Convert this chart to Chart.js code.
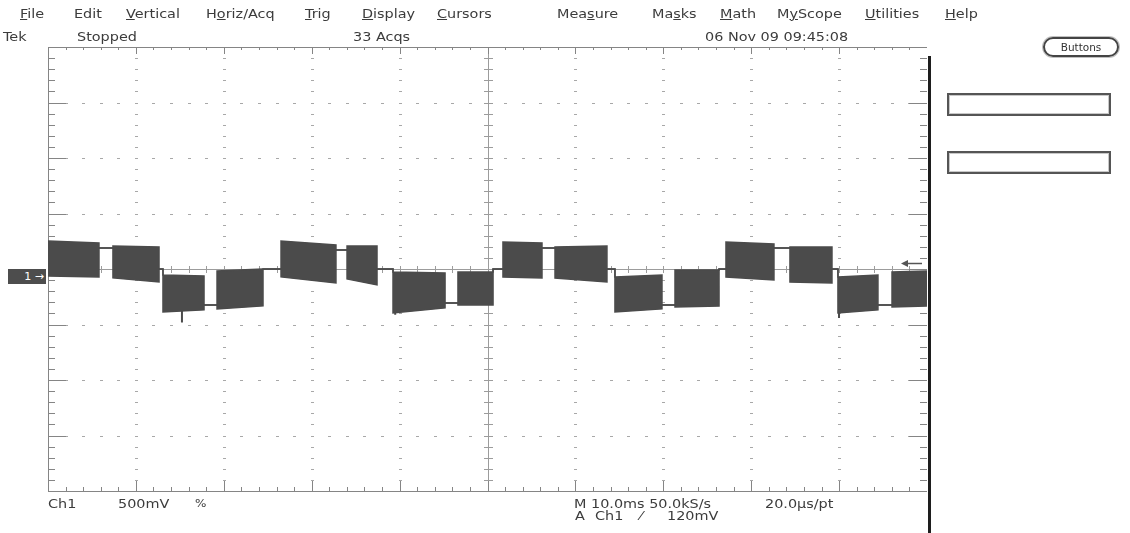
<!DOCTYPE html>
<html>
<head>
<meta charset="utf-8">
<script src="https://cdn.jsdelivr.net/npm/chart.js@4.4.0/dist/chart.umd.min.js"></script>
<style>
  html, body { margin: 0; padding: 0; background: #fff; }
  #scope { position: relative; width: 1130px; height: 533px; overflow: hidden; }
  #scope canvas { position: absolute; left: 0; top: 0; }
  .txt {
    position: absolute; font-family: "DejaVu Sans", sans-serif; font-size: 12px;
    line-height: 12px; color: #3c3c3c; white-space: nowrap;
    transform: scaleX(1.2); transform-origin: 0 50%;
  }
  .txt u { text-decoration-thickness: 1px; text-underline-offset: 1px; }
  .box {
    position: absolute; left: 947px; width: 164px; height: 23px; box-sizing: border-box;
    border: 2px solid #555; box-shadow: inset 0 0 0 1px #c8c8c8;
  }
  #buttons {
    position: absolute; left: 1043px; top: 37px; width: 76px; height: 20px; box-sizing: border-box;
    border: 2px solid #444; border-radius: 10px; box-shadow: 0 0 0 1px #c0c0c0;
    font-family: "DejaVu Sans", sans-serif; font-size: 10.5px; line-height: 16px;
    text-align: center; color: #333;
  }
  #ch1Marker {
    position: absolute; left: 8px; width: 38px; height: 15px; background: #4d4d4d;
    color: #fff; font-family: "DejaVu Sans", sans-serif; font-size: 11px; line-height: 15px;
    text-align: right; padding-right: 2px; box-sizing: border-box;
  }
</style>
</head>
<body>
<div id="scope">
  <canvas id="scopeCanvas" width="1130" height="533"></canvas>

  <div class="txt" style="left:20px;top:8px"><u>F</u>ile</div>
  <div class="txt" style="left:74px;top:8px">Edit</div>
  <div class="txt" style="left:126px;top:8px"><u>V</u>ertical</div>
  <div class="txt" style="left:206px;top:8px">H<u>o</u>riz/Acq</div>
  <div class="txt" style="left:305px;top:8px"><u>T</u>rig</div>
  <div class="txt" style="left:362px;top:8px"><u>D</u>isplay</div>
  <div class="txt" style="left:437px;top:8px"><u>C</u>ursors</div>
  <div class="txt" style="left:557px;top:8px">Mea<u>s</u>ure</div>
  <div class="txt" style="left:652px;top:8px">Ma<u>s</u>ks</div>
  <div class="txt" style="left:720px;top:8px"><u>M</u>ath</div>
  <div class="txt" style="left:777px;top:8px">M<u>y</u>Scope</div>
  <div class="txt" style="left:865px;top:8px"><u>U</u>tilities</div>
  <div class="txt" style="left:945px;top:8px"><u>H</u>elp</div>

  <div class="txt" style="left:3px;top:31px">Tek</div>
  <div class="txt" style="left:77px;top:31px">Stopped</div>
  <div class="txt" style="left:353px;top:31px">33 Acqs</div>
  <div class="txt" style="left:705px;top:31px">06 Nov 09 09:45:08</div>

  <div id="buttons">Buttons</div>
  <div class="box" style="top:93px"></div>
  <div class="box" style="top:151px"></div>

  <div class="txt" style="left:48px;top:498px">Ch1</div>
  <div class="txt" style="left:118px;top:498px">500mV</div>
  <div class="txt" style="left:195px;top:498px;font-size:10px">%</div>
  <div class="txt" style="left:574px;top:498px">M 10.0ms 50.0kS/s</div>
  <div class="txt" style="left:765px;top:498px">20.0μs/pt</div>
  <div class="txt" style="left:575px;top:510px">A</div>
  <div class="txt" style="left:595px;top:510px">Ch1</div>
  <div class="txt" style="left:640px;top:510px">⁄</div>
  <div class="txt" style="left:667px;top:510px">120mV</div>

  <div id="ch1Marker">1 →</div>
</div>

<script>
// Ch1 trace, 10 ms/div, 500 mV/div. Each segment is a PWM block (upper/lower
// envelope) or a flat stretch where both envelopes sit on the same level.
const segStartMs = [0, 5.80, 7.39, 12.63, 13.08, 17.75, 19.23, 24.46, 26.51, 32.76, 34.02, 37.43,
  39.25, 45.17, 46.64, 50.63, 51.76, 56.20, 57.68, 63.59, 64.50, 69.85, 71.33, 76.34,
  77.13, 82.59, 84.41, 89.19, 89.87, 94.42, 96.02];
const segEndMs = [5.80, 7.39, 12.63, 13.08, 17.75, 19.23, 24.46, 26.51, 32.76, 34.02, 37.43, 39.25,
  45.17, 46.64, 50.63, 51.76, 56.20, 57.68, 63.59, 64.50, 69.85, 71.33, 76.34, 77.13,
  82.59, 84.41, 89.19, 89.87, 94.42, 96.02, 100];
const highStartV = [0.315, 0.252, 0.270, 0.063, 0.009, -0.261, 0.045, 0.063, 0.315, 0.234, 0.270, 0.063,
  0.036, -0.243, 0.036, 0.063, 0.306, 0.252, 0.261, 0.063, -0.009, -0.261, 0.054, 0.063,
  0.306, 0.252, 0.261, 0.063, -0.009, -0.261, 0.036];
const highEndV = [0.297, 0.252, 0.261, 0.063, 0.000, -0.261, 0.063, 0.063, 0.279, 0.234, 0.270, 0.063,
  0.027, -0.243, 0.036, 0.063, 0.297, 0.252, 0.270, 0.063, 0.009, -0.261, 0.054, 0.063,
  0.288, 0.252, 0.261, 0.063, 0.009, -0.261, 0.045];
const lowStartV = [0.000, 0.252, -0.018, 0.063, -0.324, -0.261, -0.297, 0.063, -0.009, 0.234, -0.027, 0.063,
  -0.333, -0.243, -0.261, 0.063, -0.009, 0.252, -0.018, 0.063, -0.324, -0.261, -0.279, 0.063,
  -0.009, 0.252, -0.054, 0.063, -0.333, -0.261, -0.279];
const lowEndV = [-0.009, 0.252, -0.054, 0.063, -0.306, -0.261, -0.270, 0.063, -0.063, 0.234, -0.081, 0.063,
  -0.288, -0.243, -0.261, 0.063, -0.018, 0.252, -0.054, 0.063, -0.297, -0.261, -0.270, 0.063,
  -0.036, 0.252, -0.063, 0.063, -0.306, -0.261, -0.270];

// glitches poking out below a few blocks
const spikeMs = [15.24, 39.5, 89.99];
const spikeFromV = [-0.31, -0.33, -0.32];
const spikeToV = [-0.42, -0.35, -0.38];

const msPerDiv = 10;
const vPerDiv = 0.5;
const centerV = 0.0625;          // ground sits 1/8 div below screen centre
const yMin = centerV - 4 * vPerDiv;
const yMax = centerV + 4 * vPerDiv;
const trigLevelV = 0.12;

const upperPts = [];
const lowerPts = [];
segStartMs.forEach((t0, i) => {
  upperPts.push({ x: t0, y: highStartV[i] }, { x: segEndMs[i], y: highEndV[i] });
  lowerPts.push({ x: t0, y: lowStartV[i] }, { x: segEndMs[i], y: lowEndV[i] });
});
const spikePts = [];
spikeMs.forEach((t, i) => {
  spikePts.push({ x: t, y: spikeFromV[i] }, { x: t, y: spikeToV[i] }, { x: t, y: null });
});

const traceColor = '#4b4b4b';

// graticule: frame, dotted major lines, centre cross and edge ticks
const graticule = {
  id: 'graticule',
  beforeDatasetsDraw(chart) {
    const { ctx, chartArea: a, scales: { x, y } } = chart;
    const px = (t) => Math.round(x.getPixelForValue(t));
    const py = (v) => Math.round(y.getPixelForValue(v));
    const cx = px(5 * msPerDiv);
    const cy = py(centerV);
    ctx.save();

    ctx.fillStyle = '#a8a8a8';
    for (let i = 1; i < 10; i++) {
      if (i === 5) continue;
      for (let j = 1; j < 40; j++) ctx.fillRect(px(i * msPerDiv) - 1, py(yMin + j * vPerDiv / 5), 3, 1);
    }
    for (let j = 1; j < 8; j++) {
      if (j === 4) continue;
      for (let i = 1; i < 50; i++) ctx.fillRect(px(i * msPerDiv / 5) - 1, py(yMin + j * vPerDiv), 3, 1);
    }

    ctx.fillStyle = '#9c9c9c';
    ctx.fillRect(a.left, cy, a.right - a.left, 1);
    ctx.fillRect(cx, a.top, 1, a.bottom - a.top);
    for (let i = 1; i < 50; i++) ctx.fillRect(px(i * msPerDiv / 5), cy - 3, 1, 7);
    for (let j = 1; j < 40; j++) ctx.fillRect(cx - 4, py(yMin + j * vPerDiv / 5), 9, 1);

    ctx.fillStyle = '#858585';
    ctx.fillRect(a.left, a.top, a.right - a.left, 1);
    ctx.fillRect(a.left, a.top, 1, a.bottom - a.top);
    ctx.fillRect(a.left, a.bottom, a.right - a.left, 1);
    for (let i = 1; i < 50; i++) {
      const major = i % 5 === 0;
      ctx.fillRect(px(i * msPerDiv / 5), a.top, 1, major ? 7 : 3);
      ctx.fillRect(px(i * msPerDiv / 5), a.bottom - (major ? 10 : 4), 1, major ? 10 : 4);
    }
    for (let j = 1; j < 40; j++) {
      const major = j % 5 === 0;
      const len = major ? 18 : 7;
      ctx.fillRect(a.left, py(yMin + j * vPerDiv / 5), len, 1);
      ctx.fillRect(a.right - len, py(yMin + j * vPerDiv / 5), len, 1);
    }
    ctx.restore();
  },
  afterDraw(chart) {
    const { ctx, chartArea: a, scales: { y } } = chart;
    ctx.save();
    // heavy right edge of the graticule
    ctx.fillStyle = '#1e1e1e';
    ctx.fillRect(a.right + 1, a.top + 9, 3, chart.height - a.top - 9);
    // trigger level arrow
    const ty = Math.round(y.getPixelForValue(trigLevelV)) + 0.5;
    ctx.strokeStyle = '#555';
    ctx.fillStyle = '#555';
    ctx.lineWidth = 1.5;
    ctx.beginPath();
    ctx.moveTo(a.right - 5, ty);
    ctx.lineTo(a.right - 22, ty);
    ctx.stroke();
    ctx.beginPath();
    ctx.moveTo(a.right - 26, ty);
    ctx.lineTo(a.right - 19, ty - 3.5);
    ctx.lineTo(a.right - 19, ty + 3.5);
    ctx.closePath();
    ctx.fill();
    ctx.restore();
  }
};

const scopeChart = new Chart(document.getElementById('scopeCanvas'), {
  type: 'line',
  data: {
    datasets: [
      {
        label: 'Ch1 high',
        data: upperPts,
        borderColor: traceColor,
        backgroundColor: traceColor,
        borderWidth: 1.5,
        fill: '+1'
      },
      {
        label: 'Ch1 low',
        data: lowerPts,
        borderColor: traceColor,
        borderWidth: 1.5,
        fill: false
      },
      {
        label: 'glitch',
        data: spikePts,
        borderColor: traceColor,
        borderWidth: 2,
        fill: false,
        spanGaps: false
      }
    ]
  },
  options: {
    responsive: false,
    animation: false,
    layout: { padding: { left: 48, top: 47, right: 203, bottom: 42 } },
    elements: { point: { radius: 0 }, line: { tension: 0 } },
    scales: {
      x: { type: 'linear', min: 0, max: 10 * msPerDiv, display: false },
      y: { type: 'linear', min: yMin, max: yMax, display: false }
    },
    plugins: { legend: { display: false }, tooltip: { enabled: false } }
  },
  plugins: [graticule]
});

// channel 1 ground marker
const groundY = scopeChart.scales.y.getPixelForValue(0);
document.getElementById('ch1Marker').style.top = Math.round(groundY - 7) + 'px';
</script>
</body>
</html>
